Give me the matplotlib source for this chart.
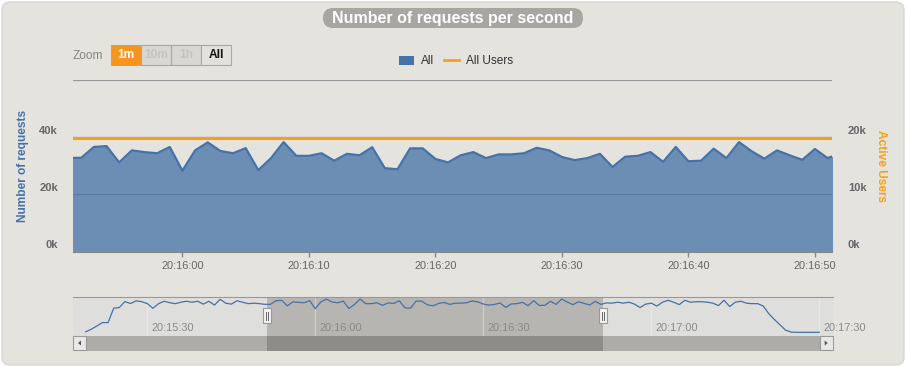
import matplotlib
matplotlib.use('Agg')
import matplotlib.pyplot as plt
import matplotlib.transforms as mtransforms
from matplotlib.patches import FancyBboxPatch, Rectangle, Polygon
from matplotlib.lines import Line2D

plt.rcParams['font.family'] = ['Liberation Sans', 'DejaVu Sans']

# seconds after 20:15:00
start_before = 19
req_before = [4300, 7000, 10500, 13900, 13900, 28800, 29500, 35700, 33600, 36400,
              35500, 33600, 28700, 33500, 36000, 34500, 33500, 35000, 36000, 35000,
              36000, 33000, 36000, 32000, 38000, 34000, 33000, 36500, 35000, 33500,
              34000, 33500]
# visible 1m window (20:15:51 .. 20:16:52)
req_window = [32800, 32800, 36600, 36900, 31200, 35400, 34800, 34400, 36600, 28300,
              35400, 38200, 35200, 34400, 36200, 28500, 32700, 38300, 33500, 33500,
              34400, 31800, 34200, 33700, 36500, 29200, 28800, 36100, 36100, 32400,
              31200, 33700, 34800, 32700, 34000, 34000, 34400, 36300, 35400, 33100,
              32000, 32700, 34200, 29600, 33200, 33500, 34800, 31400, 36600, 31600,
              31800, 36000, 32700, 38300, 35100, 32500, 35400, 33700, 32100, 35900,
              32700, 34300]
users_window = [19900, 19900, 19900, 19900, 19900, 19900, 19900, 19900, 19900, 19900,
                19900, 19900, 19900, 19900, 19900, 19900, 19900, 19900, 19900, 19900,
                19900, 19900, 19900, 19900, 19900, 19900, 19900, 19900, 19900, 19900,
                19900, 19900, 19900, 19900, 19900, 19900, 19900, 19900, 19900, 19900,
                19900, 19900, 19900, 19900, 19900, 19900, 19900, 19900, 19900, 19900,
                19900, 19900, 19900, 19900, 19900, 19900, 19900, 19900, 19900, 19900,
                19900, 19900]
req_after = [34000, 35000, 34000, 35000, 33000, 29500, 33000, 34000, 31000, 35000,
             37000, 35000, 32500, 37000, 35000, 35500, 35500, 35000, 34000, 31500,
             37000, 30500, 35000, 36000, 34000, 33500, 33500, 31000, 23000, 17000,
             11500, 6000, 4000, 3800, 3800, 3800, 3800, 3800]

main_ticks = [60, 70, 80, 90, 100, 110]
nav_ticks = [30, 60, 90, 120, 150]
window = (51.35, 111.35)
nav_range = (16.73, 152.4)

req_all = req_before + req_window + req_after
t_all = list(range(start_before, start_before + len(req_all)))
t_window = t_all[len(req_before):len(req_before) + len(req_window)]


def hms(t):
    return f'20:{15 + t // 60}:{t % 60:02d}'


W, H = 906, 367
fig = plt.figure(figsize=(W / 100, H / 100), dpi=100)
fig.patch.set_facecolor('white')
PX = mtransforms.Affine2D().scale(1 / W, -1 / H).translate(0, 1) + fig.transFigure


def px_axes(left, top, right, bottom):
    return fig.add_axes([left / W, 1 - bottom / H, (right - left) / W, (bottom - top) / H])


BLUE = '#4572A7'
ORANGE = '#F5A01A'
BG = '#E5E3DE'

# card + title
fig.add_artist(FancyBboxPatch((2, 2), 902, 363, boxstyle='round,pad=0,rounding_size=8',
                              fc=BG, ec='#D9D7D2', lw=1, transform=PX, zorder=-10))
fig.add_artist(FancyBboxPatch((323, 8), 260, 20, boxstyle='round,pad=0,rounding_size=10',
                              fc='#A8A6A1', ec='none', transform=PX))
fig.text(453, 18.5, 'Number of requests per second', transform=PX, ha='center', va='center',
         color='white', fontsize=11.5, fontweight='bold')

# zoom buttons
fig.text(73, 56, 'Zoom', transform=PX, ha='left', va='center', color='#858585', fontsize=8.6)
buttons = [('1m', '#F7941D', 'white'), ('10m', '#D8D7D3', '#C4C4C2'),
           ('1h', '#D8D7D3', '#C4C4C2'), ('All', '#E2E1DD', '#111111')]
for i, (lab, fc, tc) in enumerate(buttons):
    x0 = 111 + 30 * i
    fig.add_artist(Rectangle((x0, 45), 30, 20, fc=fc, ec='#A8A8A6', lw=0.8, transform=PX))
    fig.text(x0 + 15, 55.5, lab, transform=PX, ha='center', va='center', color=tc,
             fontsize=8.6, fontweight='bold')

# main chart
ax = px_axes(73, 80, 832, 251.7)
ax.set_facecolor('none')
ax.set_xlim(*window)
ax.set_ylim(0, 60000)
for v in (20000, 40000, 60000):
    ax.axhline(v, color='#999999', lw=0.9, zorder=1)
ax.fill_between(t_window, req_window, color=BLUE, alpha=0.75, lw=0, zorder=2)
ax.plot(t_window, req_window, color=BLUE, lw=1.6, zorder=3)
for s in ('left', 'right', 'top'):
    ax.spines[s].set_visible(False)
ax.spines['bottom'].set_color('#888888')
ax.set_yticks([])
ax.set_xticks(main_ticks)
ax.set_xticklabels([hms(t) for t in main_ticks])
ax.tick_params(axis='x', direction='out', length=3.6, width=1, color='#888888',
               labelsize=7.9, labelcolor='#666666', pad=3.4)

ax2 = ax.twinx()
ax2.set_ylim(0, 30000)
ax2.set_yticks([])
for s in ax2.spines.values():
    s.set_visible(False)
ax2.plot(t_window, users_window, color=ORANGE, lw=2.2, zorder=4)

up = mtransforms.ScaledTranslation(0, 6.5 / 100, fig.dpi_scale_trans)
tl = mtransforms.blended_transform_factory(ax.transAxes, ax.transData) + up
for v in (0, 20000, 40000):
    ax.text(-15 / 759, v, f'{v // 1000}k', transform=tl, ha='right', va='center',
            color='#666666', fontsize=8, fontweight='bold')
tr = mtransforms.blended_transform_factory(ax2.transAxes, ax2.transData) + up
for v in (0, 10000, 20000):
    ax2.text(1 + 16 / 759, v, f'{v // 1000}k', transform=tr, ha='left', va='center',
             color='#666666', fontsize=8, fontweight='bold')

fig.text(23, 166, 'Number of requests', transform=PX, rotation=90, ha='center', va='center',
         color=BLUE, fontsize=8.6, fontweight='bold')
fig.text(881.5, 166, 'Active Users', transform=PX, rotation=270, ha='center', va='center',
         color=ORANGE, fontsize=8.6, fontweight='bold')

# legend
handles = [Rectangle((0, 0), 1, 1, fc=BLUE, ec='none'), Line2D([], [], color=ORANGE, lw=2)]
fig.legend(handles, ['All', 'All Users'], loc='center', bbox_to_anchor=(456, 61.5),
           bbox_transform=PX, ncol=2, frameon=False, fontsize=8.6, labelcolor='#333333',
           handlelength=1.25, handleheight=0.85, handletextpad=0.55, columnspacing=0.9,
           borderpad=0, borderaxespad=0)

# navigator
nav = px_axes(73, 296.7, 832.7, 336)
nav.set_xlim(*nav_range)
nav.set_ylim(0, 40700)
nav.set_facecolor('#DEDEDC')
nav.axvspan(*window, color='#B7B5B1', lw=0, zorder=0)
for t in nav_ticks:
    nav.axvline(t, color='white', alpha=0.3, lw=1, zorder=1)
nav.plot(t_all, req_all, color=BLUE, lw=0.9, zorder=2)
for s in ('left', 'right', 'bottom'):
    nav.spines[s].set_visible(False)
nav.spines['top'].set_color('#999999')
nav.set_xticks([])
nav.set_yticks([])
right = mtransforms.ScaledTranslation(4.4 / 100, 0, fig.dpi_scale_trans)
nt = mtransforms.blended_transform_factory(nav.transData, nav.transAxes) + right
for t in nav_ticks:
    nav.text(t, 0.21, hms(t), transform=nt, ha='left', va='center', color='#8A8A8A',
             fontsize=7.9, clip_on=False)

# scrollbar
sb = px_axes(73, 336, 832.7, 350.5)
sb.set_xlim(*nav_range)
sb.set_ylim(0, 1)
sb.set_facecolor('#AEACA6')
sb.axvspan(*window, color='#8E8C87', lw=0)
sb.set_xticks([])
sb.set_yticks([])
for s in sb.spines.values():
    s.set_visible(False)

fig.add_artist(Rectangle((73, 336), 13, 14, fc='#E8E8E6', ec='#9A9A9A', lw=0.8, transform=PX))
fig.add_artist(Polygon([(78, 343), (81, 340.5), (81, 345.5)], closed=True, fc='#555555',
                       ec='none', transform=PX))
fig.add_artist(Rectangle((819.7, 336), 13, 14, fc='#E8E8E6', ec='#9A9A9A', lw=0.8, transform=PX))
fig.add_artist(Polygon([(827.7, 343), (824.7, 340.5), (824.7, 345.5)], closed=True,
                       fc='#555555', ec='none', transform=PX))

# navigator handles
for t in window:
    xp = 73 + (t - nav_range[0]) / (nav_range[1] - nav_range[0]) * 759.7
    fig.add_artist(Rectangle((xp - 4, 308), 8, 15, fc='#F2F2F2', ec='#999999', lw=0.8,
                             transform=PX))
    for dx in (-1.2, 1.2):
        fig.add_artist(Line2D([xp + dx, xp + dx], [311.5, 319.5], color='#666666', lw=0.7,
                              transform=PX))

fig.savefig('out.png', dpi=100, facecolor=fig.get_facecolor())
